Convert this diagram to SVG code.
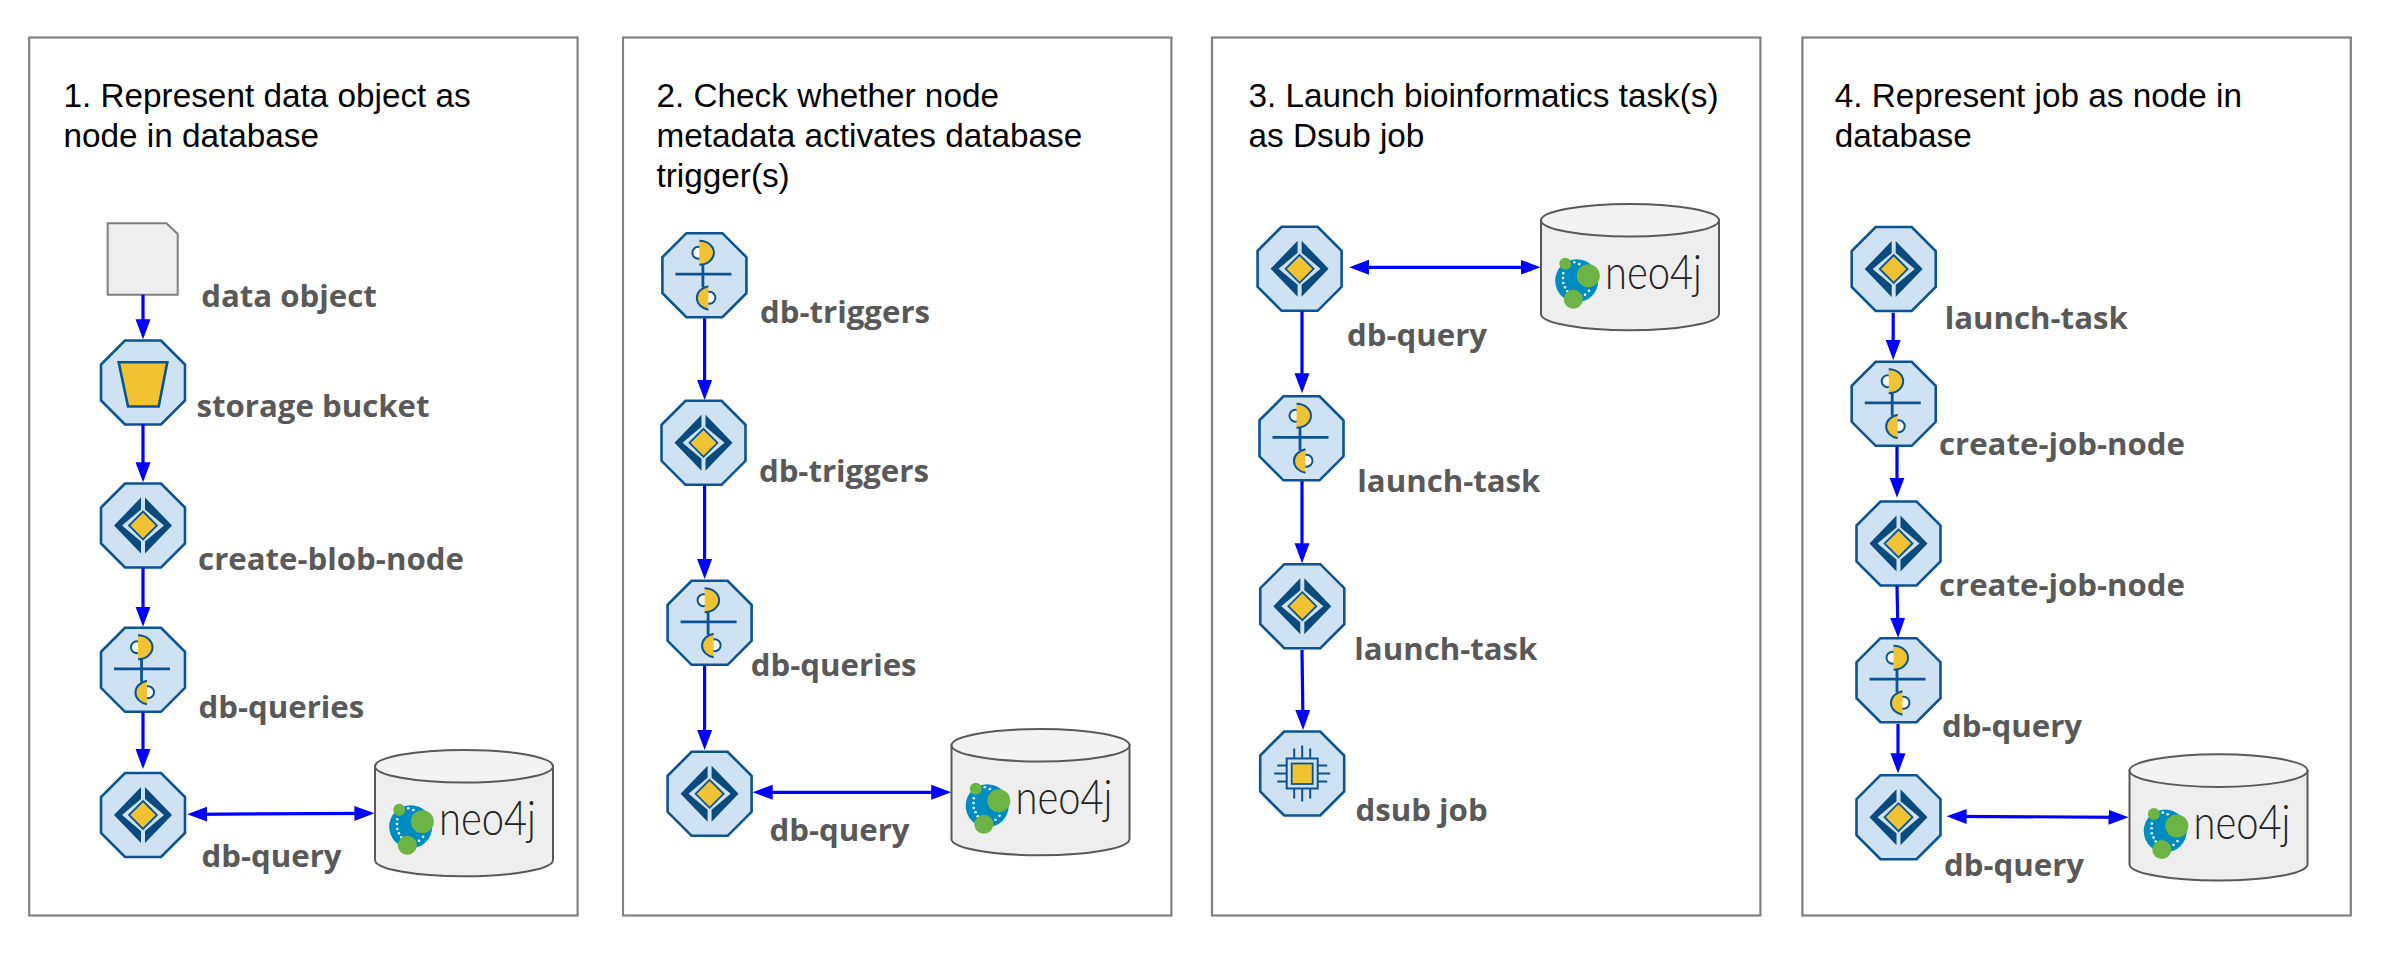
<svg xmlns="http://www.w3.org/2000/svg" width="2382" height="959" viewBox="0 0 2382 959">
<style>
.frame{fill:#fff;stroke:#808080;stroke-width:2.2}
.title{font-family:"Liberation Sans",Arial,sans-serif;font-size:33.3px;fill:#000}
.label{font-family:"Open Sans","Noto Sans",sans-serif;font-weight:700;font-size:31.2px;fill:#595959}
.neo{font-family:"Lato","Open Sans",sans-serif;font-weight:300;font-size:47px;fill:#222}
.oct{fill:#cfe2f3;stroke:#0b5394;stroke-width:2.6}
.gold{fill:#f1c232;stroke:#0b5394;stroke-width:1.8}
.half{fill:#f1c232;stroke:none}
.edge{fill:none;stroke:#0b5394;stroke-width:2}
.dark{fill:#0a4a7f}
.ln{fill:none;stroke:#0b5394;stroke-width:2.8}
.wh{fill:#fff;stroke:#0b5394;stroke-width:2}
.cyl{fill:#eeeeee;stroke:#595959;stroke-width:2}
.cyltop{fill:#f3f3f3;stroke:#595959;stroke-width:2}
.arrow{fill:none;stroke:#0000ff;stroke-width:3.2}
.dbl{marker-start:url(#head);marker-end:url(#head)}
.sgl{marker-end:url(#head)}
</style>
<defs>
<marker id="head" markerUnits="userSpaceOnUse" markerWidth="21" markerHeight="16" refX="15" refY="8" orient="auto-start-reverse"><path d="M0,0.5 L20,8 L0,15.5 Z" fill="#0000ff"/></marker>
<polygon id="octagon" class="oct" points="-18,-42 18,-42 42,-18 42,18 18,42 -18,42 -42,18 -42,-18"/>
<g id="diamond"><use href="#octagon"/>
<polygon class="dark" points="-2,-28 -29,0 -2,28 -2,16 -21,0 -2,-16"/>
<polygon class="dark" points="2,-28 29,0 2,28 2,16 21,0 2,-16"/>
<polygon class="gold" points="0,-14 14,0 0,14 -14,0"/></g>
<g id="split"><use href="#octagon"/>
<path class="ln" d="M-29,-1H27M-1.5,-11V12"/>
<circle class="wh" cx="-6" cy="-22.5" r="6"/><path class="half" d="M-5,-34.5A14.5,12 0 0 1 -5,-10.5Z"/><path class="edge" d="M-5,-34.5A14.5,12 0 0 1 -5,-10.5"/>
<circle class="wh" cx="5" cy="22.5" r="6"/><path class="half" d="M4,11A14.5,12 0 0 0 4,34.5Z"/><path class="edge" d="M4,11A14.5,12 0 0 0 4,34.5"/></g>
<g id="logo"><circle cx="35.7" cy="76.7" r="21.5" fill="#008cc1"/>
<g fill="#fff"><circle cx="33.3" cy="58.3" r="1.3"/><circle cx="38.3" cy="60" r="1.3"/><circle cx="22.3" cy="69.3" r="1.3"/><circle cx="22" cy="74" r="1.3"/><circle cx="22.3" cy="79" r="1.3"/><circle cx="24" cy="83.3" r="1.3"/><circle cx="26.3" cy="87.3" r="1.3"/><circle cx="44" cy="90.7" r="1.3"/><circle cx="48" cy="86.7" r="1.3"/></g>
<g fill="#6cb445"><circle cx="47.3" cy="71.7" r="11.5"/><circle cx="24.3" cy="59.7" r="6"/><circle cx="32.3" cy="95.3" r="9.5"/></g></g>
<g id="cylinder"><path class="cyl" d="M0,16.3V110A89,16.3 0 0 0 178,110V16.3Z"/><ellipse class="cyltop" cx="89" cy="16.3" rx="89" ry="16.3"/><use href="#logo"/></g>
</defs>
<rect width="2382" height="959" fill="#fff"/>
<g id="panels">
<rect class="frame" x="29.2" y="37.5" width="548.4" height="878"/>
<rect class="frame" x="623" y="37.5" width="548.4" height="878"/>
<rect class="frame" x="1212" y="37.5" width="548.4" height="878"/>
<rect class="frame" x="1802.4" y="37.5" width="548.4" height="878"/>
</g>
<g id="titles">
<text class="title" x="63.5" y="106.7">1. Represent data object as</text>
<text class="title" x="63.5" y="146.7">node in database</text>
<text class="title" x="656.5" y="106.7">2. Check whether node</text>
<text class="title" x="656.5" y="146.7">metadata activates database</text>
<text class="title" x="656.5" y="186.7">trigger(s)</text>
<text class="title" x="1248.5" y="106.7">3. Launch bioinformatics task(s)</text>
<text class="title" x="1248.5" y="146.7">as Dsub job</text>
<text class="title" x="1834.7" y="106.7">4. Represent job as node in</text>
<text class="title" x="1834.7" y="146.7">database</text>
</g>
<g id="p1-data-object"><path d="M107.7,223.3H166.5L177.7,234V294.7H107.7Z" fill="#eeeeee" stroke="#808080" stroke-width="2"/><text class="label" x="201.2" y="307.4">data object</text></g>
<g id="p1-storage-bucket"><use href="#octagon" x="143" y="382.5"/><polygon points="118.7,362.2 167.3,362.2 158.7,406.5 128,406.5" fill="#f1c232" stroke="#0b5394" stroke-width="2.6"/><text class="label" x="196.5" y="417.4">storage bucket</text></g>
<g id="p1-create-blob-node"><use href="#diamond" x="143" y="525.5"/><text class="label" x="198.1" y="570">create-blob-node</text></g>
<g id="p1-db-queries"><use href="#split" x="143" y="669.8"/><text class="label" x="198.5" y="718.4">db-queries</text></g>
<g id="p1-db-query"><use href="#diamond" x="143" y="815"/><text class="label" x="201.5" y="866.7">db-query</text></g>
<g id="p1-neo4j"><use href="#cylinder" x="375" y="750"/><text class="neo" x="439" y="835" textLength="97" lengthAdjust="spacingAndGlyphs">neo4j</text></g>
<g id="p2-db-triggers-a"><use href="#split" x="704.4" y="275.2"/><text class="label" x="760" y="323">db-triggers</text></g>
<g id="p2-db-triggers-b"><use href="#diamond" x="703.5" y="442.8"/><text class="label" x="758.9" y="482.4">db-triggers</text></g>
<g id="p2-db-queries"><use href="#split" x="709.6" y="622.8"/><text class="label" x="750.8" y="676.4">db-queries</text></g>
<g id="p2-db-query"><use href="#diamond" x="709.6" y="793.8"/><text class="label" x="769.5" y="840.7">db-query</text></g>
<g id="p2-neo4j"><use href="#cylinder" x="951.5" y="729"/><text class="neo" x="1015.5" y="814" textLength="97" lengthAdjust="spacingAndGlyphs">neo4j</text></g>
<g id="p3-db-query"><use href="#diamond" x="1299.6" y="268.8"/><text class="label" x="1347" y="345.7">db-query</text></g>
<g id="p3-launch-task-a"><use href="#split" x="1301.5" y="438.3"/><text class="label" x="1357.3" y="491.7">launch-task</text></g>
<g id="p3-launch-task-b"><use href="#diamond" x="1302.3" y="606.2"/><text class="label" x="1354.3" y="660">launch-task</text></g>
<g id="p3-dsub-job"><use href="#octagon" x="1302.2" y="773.5"/>
<g transform="translate(1302.2,773.5)"><path d="M-8,-15V-25M0,-15V-28M8,-15V-25M-8,15V25M0,15V28M8,15V25M-15,-8H-25M-15,0H-28M-15,8H-25M15,-8H25M15,0H28M15,8H25" fill="none" stroke="#0b5394" stroke-width="2"/><rect x="-15.5" y="-15" width="31" height="30" fill="#cfe2f3" stroke="#0b5394" stroke-width="2"/><rect x="-10.5" y="-10" width="21" height="20.5" class="gold"/></g>
<text class="label" x="1355.5" y="821.4">dsub job</text></g>
<g id="p3-neo4j"><use href="#cylinder" x="1541" y="204"/><text class="neo" x="1605" y="289" textLength="97" lengthAdjust="spacingAndGlyphs">neo4j</text></g>
<g id="p4-launch-task"><use href="#diamond" x="1893.7" y="269"/><text class="label" x="1944.7" y="329">launch-task</text></g>
<g id="p4-create-job-node-a"><use href="#split" x="1893.7" y="403.8"/><text class="label" x="1939" y="454.7">create-job-node</text></g>
<g id="p4-create-job-node-b"><use href="#diamond" x="1898.5" y="543.5"/><text class="label" x="1939" y="596">create-job-node</text></g>
<g id="p4-db-query-a"><use href="#split" x="1898.5" y="680.2"/><text class="label" x="1942" y="737.4">db-query</text></g>
<g id="p4-db-query-b"><use href="#diamond" x="1898.5" y="817.2"/><text class="label" x="1944" y="875.7">db-query</text></g>
<g id="p4-neo4j"><use href="#cylinder" x="2129.5" y="754.3"/><text class="neo" x="2193.5" y="839.3" textLength="97" lengthAdjust="spacingAndGlyphs">neo4j</text></g>
<g id="connectors">
<path class="arrow sgl" d="M143,294.7V334.3"/>
<path class="arrow sgl" d="M143,424V477.3"/>
<path class="arrow sgl" d="M143,567.7V621.7"/>
<path class="arrow sgl" d="M143,712.3V764"/>
<path class="arrow dbl" d="M192.3,814.3L369.4,813.3"/>
<path class="arrow sgl" d="M704.6,318.3V395"/>
<path class="arrow sgl" d="M704.6,485V574"/>
<path class="arrow sgl" d="M704.6,665.7V745"/>
<path class="arrow dbl" d="M757.7,792.3H946.2"/>
<path class="arrow dbl" d="M1354.2,267.3H1535.5"/>
<path class="arrow sgl" d="M1302,311.3V388.3"/>
<path class="arrow sgl" d="M1302,481V558.3"/>
<path class="arrow sgl" d="M1302,650L1303,725"/>
<path class="arrow sgl" d="M1893.2,312.7V355"/>
<path class="arrow sgl" d="M1897,446.7V492.7"/>
<path class="arrow sgl" d="M1897,586L1898,632.7"/>
<path class="arrow sgl" d="M1898,724V768.3"/>
<path class="arrow dbl" d="M1951.6,816.3L2123.5,817.3"/>
</g>
</svg>
